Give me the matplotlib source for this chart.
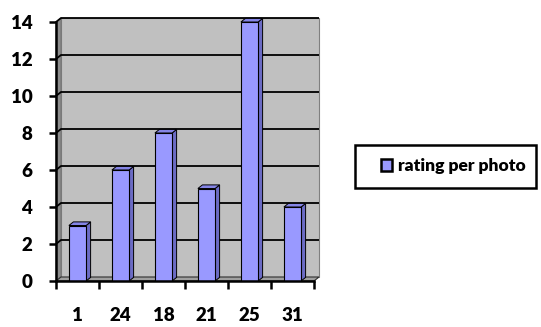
import numpy as np
import matplotlib
matplotlib.use("Agg")
import matplotlib.pyplot as plt
from matplotlib.patches import Polygon, Patch, Rectangle

categories = ["1", "24", "18", "21", "25", "31"]
ratings = [3, 6, 8, 5, 14, 4]
series_name = "rating per photo"

W, H = 541, 327
plt.rcParams["font.family"] = ["Lato", "DejaVu Sans"]
fig = plt.figure(figsize=(W / 100, H / 100), dpi=100)

# front plane of the 3-D box, in pixels
x0, x1, yb, yt = 56, 314, 281, 22
ax = fig.add_axes([x0 / W, (H - yb) / H, (x1 - x0) / W, (yb - yt) / H])
n = len(categories)
ax.set_xlim(-0.5, n - 0.5)
ax.set_ylim(0, 14)

# depth offset of the back wall (5 px right, 4 px up) in data units
dx = 5 / ((x1 - x0) / n)
dy = 4 / ((yb - yt) / 14)

L, R = -0.5, n - 0.5
ax.add_patch(Polygon([(L + dx, dy), (R + dx, dy), (R + dx, 14 + dy), (L + dx, 14 + dy)],
                     closed=True, fc="#C0C0C0", ec="#808080", lw=0.8, clip_on=False, zorder=0))
ax.add_patch(Polygon([(L, 0), (L + dx, dy), (L + dx, 14 + dy), (L, 14)],
                     closed=True, fc="#8C8C8C", ec="#707070", lw=0.6, clip_on=False, zorder=1))
ax.add_patch(Polygon([(L, 0), (R, 0), (R + dx, dy), (L + dx, dy)],
                     closed=True, fc="#A0A0A0", ec="#303030", lw=0.8, clip_on=False, zorder=1))
for v in range(2, 15, 2):
    ax.plot([L, L + dx, R + dx], [v, v + dy, v + dy], color="black", lw=1.3,
            clip_on=False, zorder=2, solid_capstyle="butt")

# bars: front face plus side and top faces
bw = 0.4
front_c, side_c, top_c = "#9999FF", "#6B6BC4", "#8585E6"
bdx, bdy = dx * 0.9, dy * 0.9
for i, v in enumerate(ratings):
    l, r = i - bw / 2, i + bw / 2
    ax.add_patch(Polygon([(r, 0), (r + bdx, bdy), (r + bdx, v + bdy), (r, v)],
                         closed=True, fc=side_c, ec="black", lw=0.7, clip_on=False, zorder=3))
    ax.add_patch(Polygon([(l, v), (r, v), (r + bdx, v + bdy), (l + bdx, v + bdy)],
                         closed=True, fc=top_c, ec="black", lw=0.7, clip_on=False, zorder=3))
ax.bar(range(n), ratings, width=bw, color=front_c, edgecolor="black", lw=0.8, zorder=4)

for s in ["top", "right"]:
    ax.spines[s].set_visible(False)
for s in ["left", "bottom"]:
    ax.spines[s].set_linewidth(1.8)
    ax.spines[s].set_zorder(5)
ax.patch.set_visible(False)

ax.set_yticks(range(0, 15, 2))
ax.tick_params(axis="y", length=5, width=1.8, pad=12, labelsize=13.5)
for t in ax.get_yticklabels():
    t.set_fontweight("heavy")
ax.set_xticks(np.arange(n + 1) - 0.5)
ax.set_xticklabels([])
ax.tick_params(axis="x", which="major", length=6, width=1.8)
ax.set_xticks(range(n), categories, minor=True)
ax.tick_params(axis="x", which="minor", length=0, pad=19, labelsize=13.5)
for t in ax.get_xticklabels(minor=True):
    t.set_fontweight("heavy")

# legend: frame drawn separately, entry placed inside it
fig.patches.append(Rectangle((355 / W, 1 - 188 / H), 181 / W, 43 / H, transform=fig.transFigure,
                             fc="white", ec="black", lw=1.8, zorder=0))
handle = Patch(fc=front_c, ec="black", lw=1.8)
fig.legend([handle], [series_name], loc="center left",
           bbox_to_anchor=(381 / W, 1 - 166 / H), frameon=False, borderpad=0, borderaxespad=0,
           handlelength=0.65, handleheight=0.65, handletextpad=0.3,
           prop={"weight": "heavy", "size": 12.6})

fig.savefig("out.png", dpi=100)
